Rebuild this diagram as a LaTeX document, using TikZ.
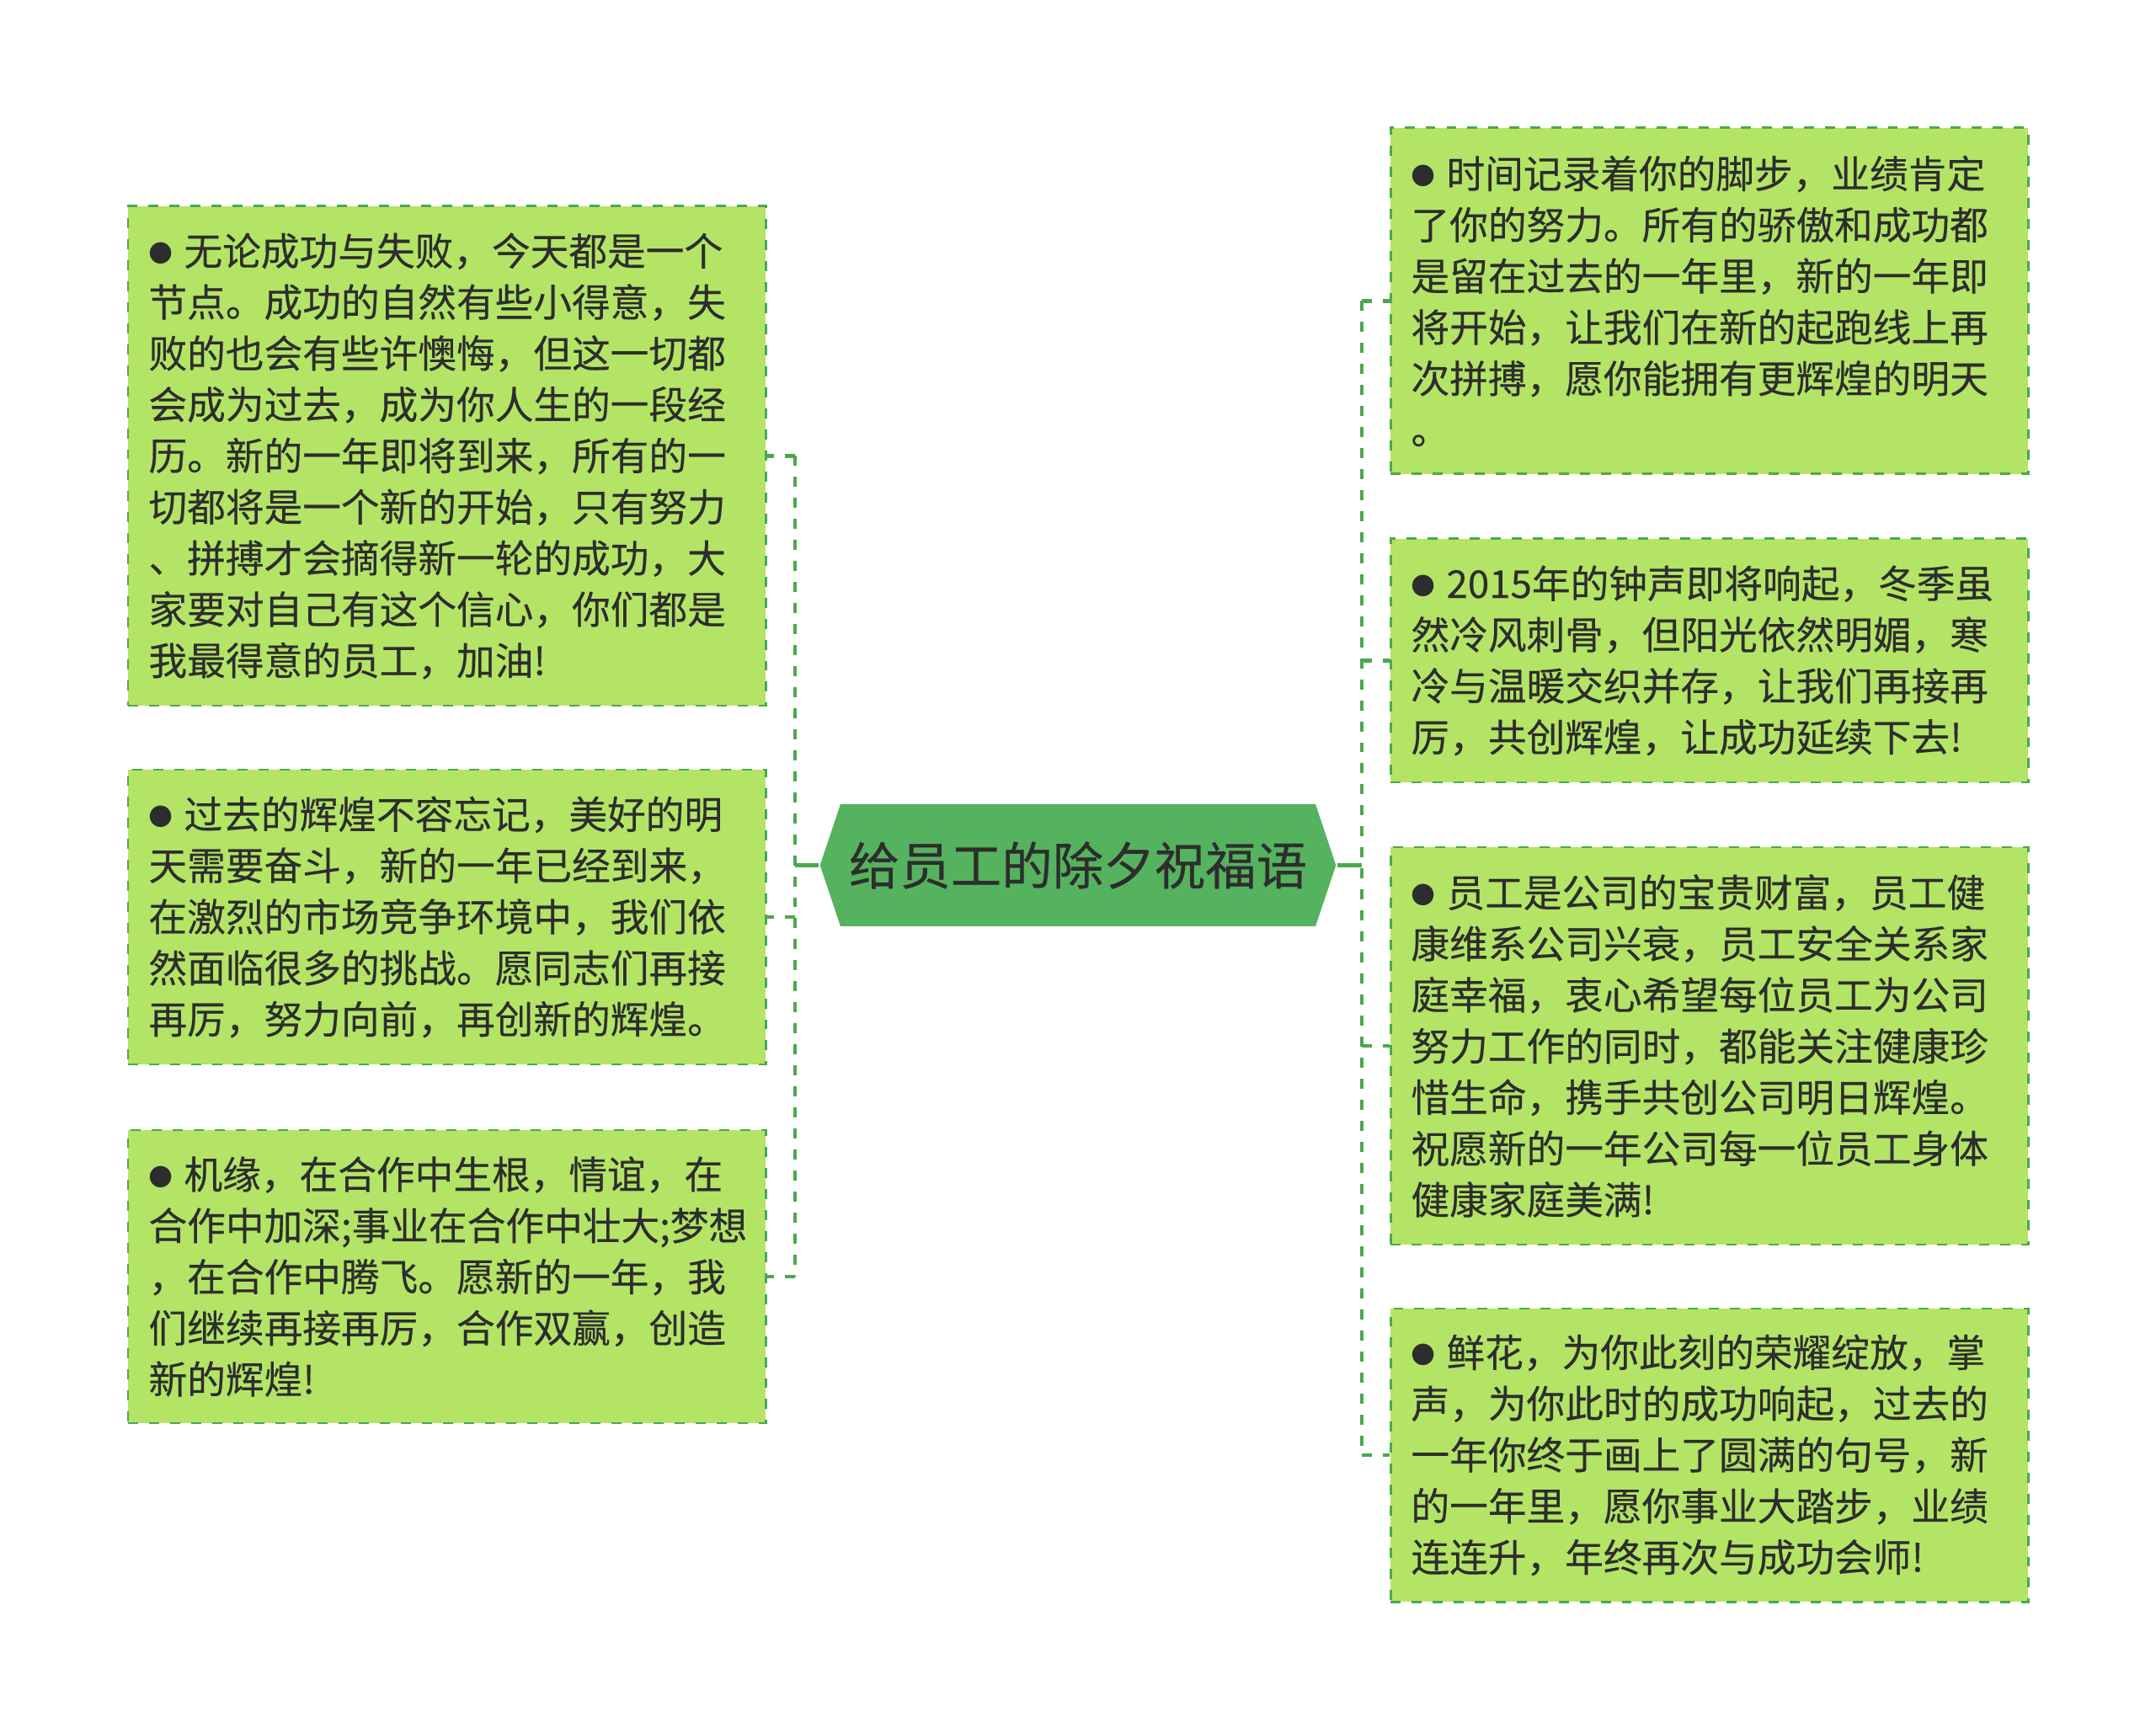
\documentclass[tikz,border=0pt]{standalone}
\usepackage{fontspec}
\setmainfont{Noto Sans CJK SC}[FakeBold=0.3]
\newfontfamily\symfont{DejaVu Sans}
\usetikzlibrary{shapes.symbols}
\definecolor{ink}{RGB}{45,45,45}
\definecolor{leaf}{RGB}{180,228,102}
\definecolor{rim}{RGB}{76,168,80}
\definecolor{hub}{RGB}{85,178,94}
\newcommand{\blt}{\makebox[0.42cm][l]{\raisebox{1.6pt}{\symfont\fontsize{9.5pt}{10pt}\selectfont ●}}}

\begin{document}
\begin{tikzpicture}[line width=0.85pt,
  note/.style={draw=rim, fill=leaf, dash pattern=on 3.4pt off 3.7pt, text=ink,
    text width=7.08cm, inner xsep=0.245cm, inner ysep=0pt, align=left,
    font=\fontsize{13pt}{17.3pt}\selectfont},
  title/.style={shape=signal, signal to=west and east, signal pointer angle=143,
    fill=hub, text=ink, inner xsep=0.1cm, minimum height=1.45cm,
    font=\fontsize{17.2pt}{20pt}\selectfont},
  twig/.style={rim, line width=1.3pt, dash pattern=on 3.4pt off 3.7pt},
  stem/.style={rim, line width=1.3pt}]
  \useasboundingbox (0,0) rectangle (25.6,20.57);
  % centre
  \node[title] (root) at (12.80,10.295) {给员工的除夕祝福语};
  % left column
  \node[note, minimum height=5.93cm] (l1) at (5.305,15.155) {\blt 无论成功与失败，今天都是一个\\
    节点。成功的自然有些小得意，失\\
    败的也会有些许懊悔，但这一切都\\
    会成为过去，成为你人生的一段经\\
    历。新的一年即将到来，所有的一\\
    切都将是一个新的开始，只有努力\\
    、拼搏才会摘得新一轮的成功，大\\
    家要对自己有这个信心，你们都是\\
    我最得意的员工，加油!};
  \node[note, minimum height=3.50cm] (l2) at (5.305,9.68) {\blt 过去的辉煌不容忘记，美好的明\\
    天需要奋斗，新的一年已经到来，\\
    在激烈的市场竞争环境中，我们依\\
    然面临很多的挑战。愿同志们再接\\
    再厉，努力向前，再创新的辉煌。};
  \node[note, minimum height=3.48cm] (l3) at (5.305,5.41) {\blt 机缘，在合作中生根，情谊，在\\
    合作中加深;事业在合作中壮大;梦想\\
    ，在合作中腾飞。愿新的一年，我\\
    们继续再接再厉，合作双赢，创造\\
    新的辉煌!};
  % right column
  \node[note, minimum height=4.11cm] (r1) at (20.295,16.995) {\blt 时间记录着你的脚步，业绩肯定\\
    了你的努力。所有的骄傲和成功都\\
    是留在过去的一年里，新的一年即\\
    将开始，让我们在新的起跑线上再\\
    次拼搏，愿你能拥有更辉煌的明天\\
    。};
  \node[note, minimum height=2.89cm] (r2) at (20.295,12.725) {\blt 2015年的钟声即将响起，冬季虽\\
    然冷风刺骨，但阳光依然明媚，寒\\
    冷与温暖交织并存，让我们再接再\\
    厉，共创辉煌，让成功延续下去!};
  \node[note, minimum height=4.72cm] (r3) at (20.295,8.15) {\blt 员工是公司的宝贵财富，员工健\\
    康维系公司兴衰，员工安全关系家\\
    庭幸福，衷心希望每位员工为公司\\
    努力工作的同时，都能关注健康珍\\
    惜生命，携手共创公司明日辉煌。\\
    祝愿新的一年公司每一位员工身体\\
    健康家庭美满!};
  \node[note, minimum height=3.48cm] (r4) at (20.295,3.29) {\blt 鲜花，为你此刻的荣耀绽放，掌\\
    声，为你此时的成功响起，过去的\\
    一年你终于画上了圆满的句号，新\\
    的一年里，愿你事业大踏步，业绩\\
    连连升，年终再次与成功会师!};
  % connectors
  \coordinate (lhub) at (9.44,10.295);
  \coordinate (rhub) at (16.17,10.295);
  \draw[stem] (root.west) -- (lhub);
  \draw[stem] (root.east) -- (rhub);
  \draw[twig] (lhub |- l1.east) -- (lhub |- l3.east);
  \draw[twig] (rhub |- r1.west) -- (rhub |- r4.west);
  \foreach \n in {l1,l2,l3}
    \draw[twig] (lhub |- \n.east) -- (\n.east);
  \foreach \n in {r1,r2,r3,r4}
    \draw[twig] (rhub |- \n.west) -- (\n.west);
\end{tikzpicture}
\end{document}
